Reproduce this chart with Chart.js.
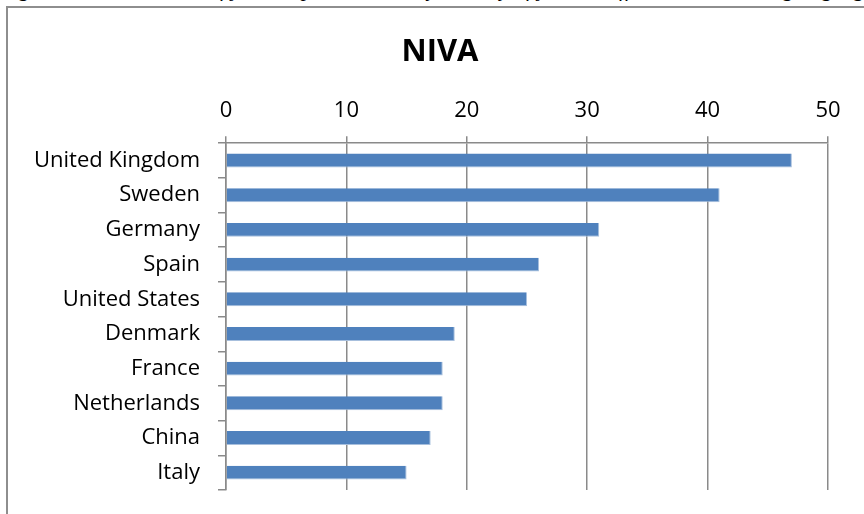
<!DOCTYPE html>
<html>
<head>
<meta charset="utf-8">
<script src="https://cdn.jsdelivr.net/npm/chart.js@4.4.1/dist/chart.umd.min.js"></script>
<style>
  html, body { margin: 0; padding: 0; background: #fff; }
  body { width: 864px; height: 514px; position: relative; overflow: hidden; }
  #caption {
    position: absolute; left: 0; top: -24px; white-space: nowrap;
    font: italic 22px "Liberation Serif", serif; color: #000;
  }
  #frame {
    position: absolute; left: 6px; top: 6px; width: 900px; height: 520px;
    border-left: 2px solid #8e8e8e; border-top: 2px solid #8e8e8e;
  }
  #chart { position: absolute; left: 0; top: 0; }
</style>
</head>
<body>
<div id="caption">Figure 7. Total number of journal publications by country of journal affiliation, according to geographic p</div>
<div id="frame"></div>
<canvas id="chart" width="864" height="514"></canvas>
<script>
const countries = ["United Kingdom", "Sweden", "Germany", "Spain", "United States",
                   "Denmark", "France", "Netherlands", "China", "Italy"];
const counts = [47, 41, 31, 26, 25, 19, 18, 18, 17, 15];
const xTicks = [0, 10, 20, 30, 40, 50];

const gridGray = "#8a8a8a";
const labelFont = { family: "'Open Sans', Lato, sans-serif", size: 22 };

// title sits a bit right of the canvas centre in the original
const titleShift = {
  id: "titleShift",
  afterLayout(c) { c.titleBlock.left += 26; }
};

let chart = new Chart(document.getElementById("chart"), {
  type: "bar",
  data: {
    labels: countries,
    datasets: [{
      label: "NIVA",
      data: counts,
      backgroundColor: "#4f81bd",
      borderColor: "#a7bfdd",
      borderWidth: { right: 1, bottom: 1 },
      barPercentage: 0.4,
      categoryPercentage: 1
    }]
  },
  plugins: [titleShift],
  options: {
    indexAxis: "y",
    responsive: false,
    animation: false,
    devicePixelRatio: 1,
    layout: { padding: { left: 26, right: 36, top: 0, bottom: 24 } },
    plugins: {
      legend: { display: false },
      tooltip: { enabled: false },
      title: {
        display: true,
        text: "NIVA",
        color: "#000",
        font: { family: "'Open Sans', Lato, sans-serif", size: 31, weight: "bold" },
        padding: { top: 34, bottom: 22 }
      }
    },
    scales: {
      x: {
        position: "top",
        min: 0,
        max: 50,
        afterBuildTicks: s => { s.ticks = xTicks.map(v => ({ value: v })); },
        afterFit: s => { s.height = 50; },
        grid: { color: gridGray, lineWidth: 1.5, tickLength: 7 },
        border: { color: gridGray, width: 1.5 },
        ticks: { color: "#000", font: labelFont, padding: 12 }
      },
      y: {
        afterFit: s => { s.width = 200; s.paddingTop = 0; s.paddingBottom = 0; },
        grid: { drawOnChartArea: false, color: gridGray, lineWidth: 1.5, tickLength: 8, offset: true },
        border: { color: gridGray, width: 1.5 },
        ticks: { color: "#000", font: labelFont, padding: 18, autoSkip: false }
      }
    }
  }
});
</script>
</body>
</html>
